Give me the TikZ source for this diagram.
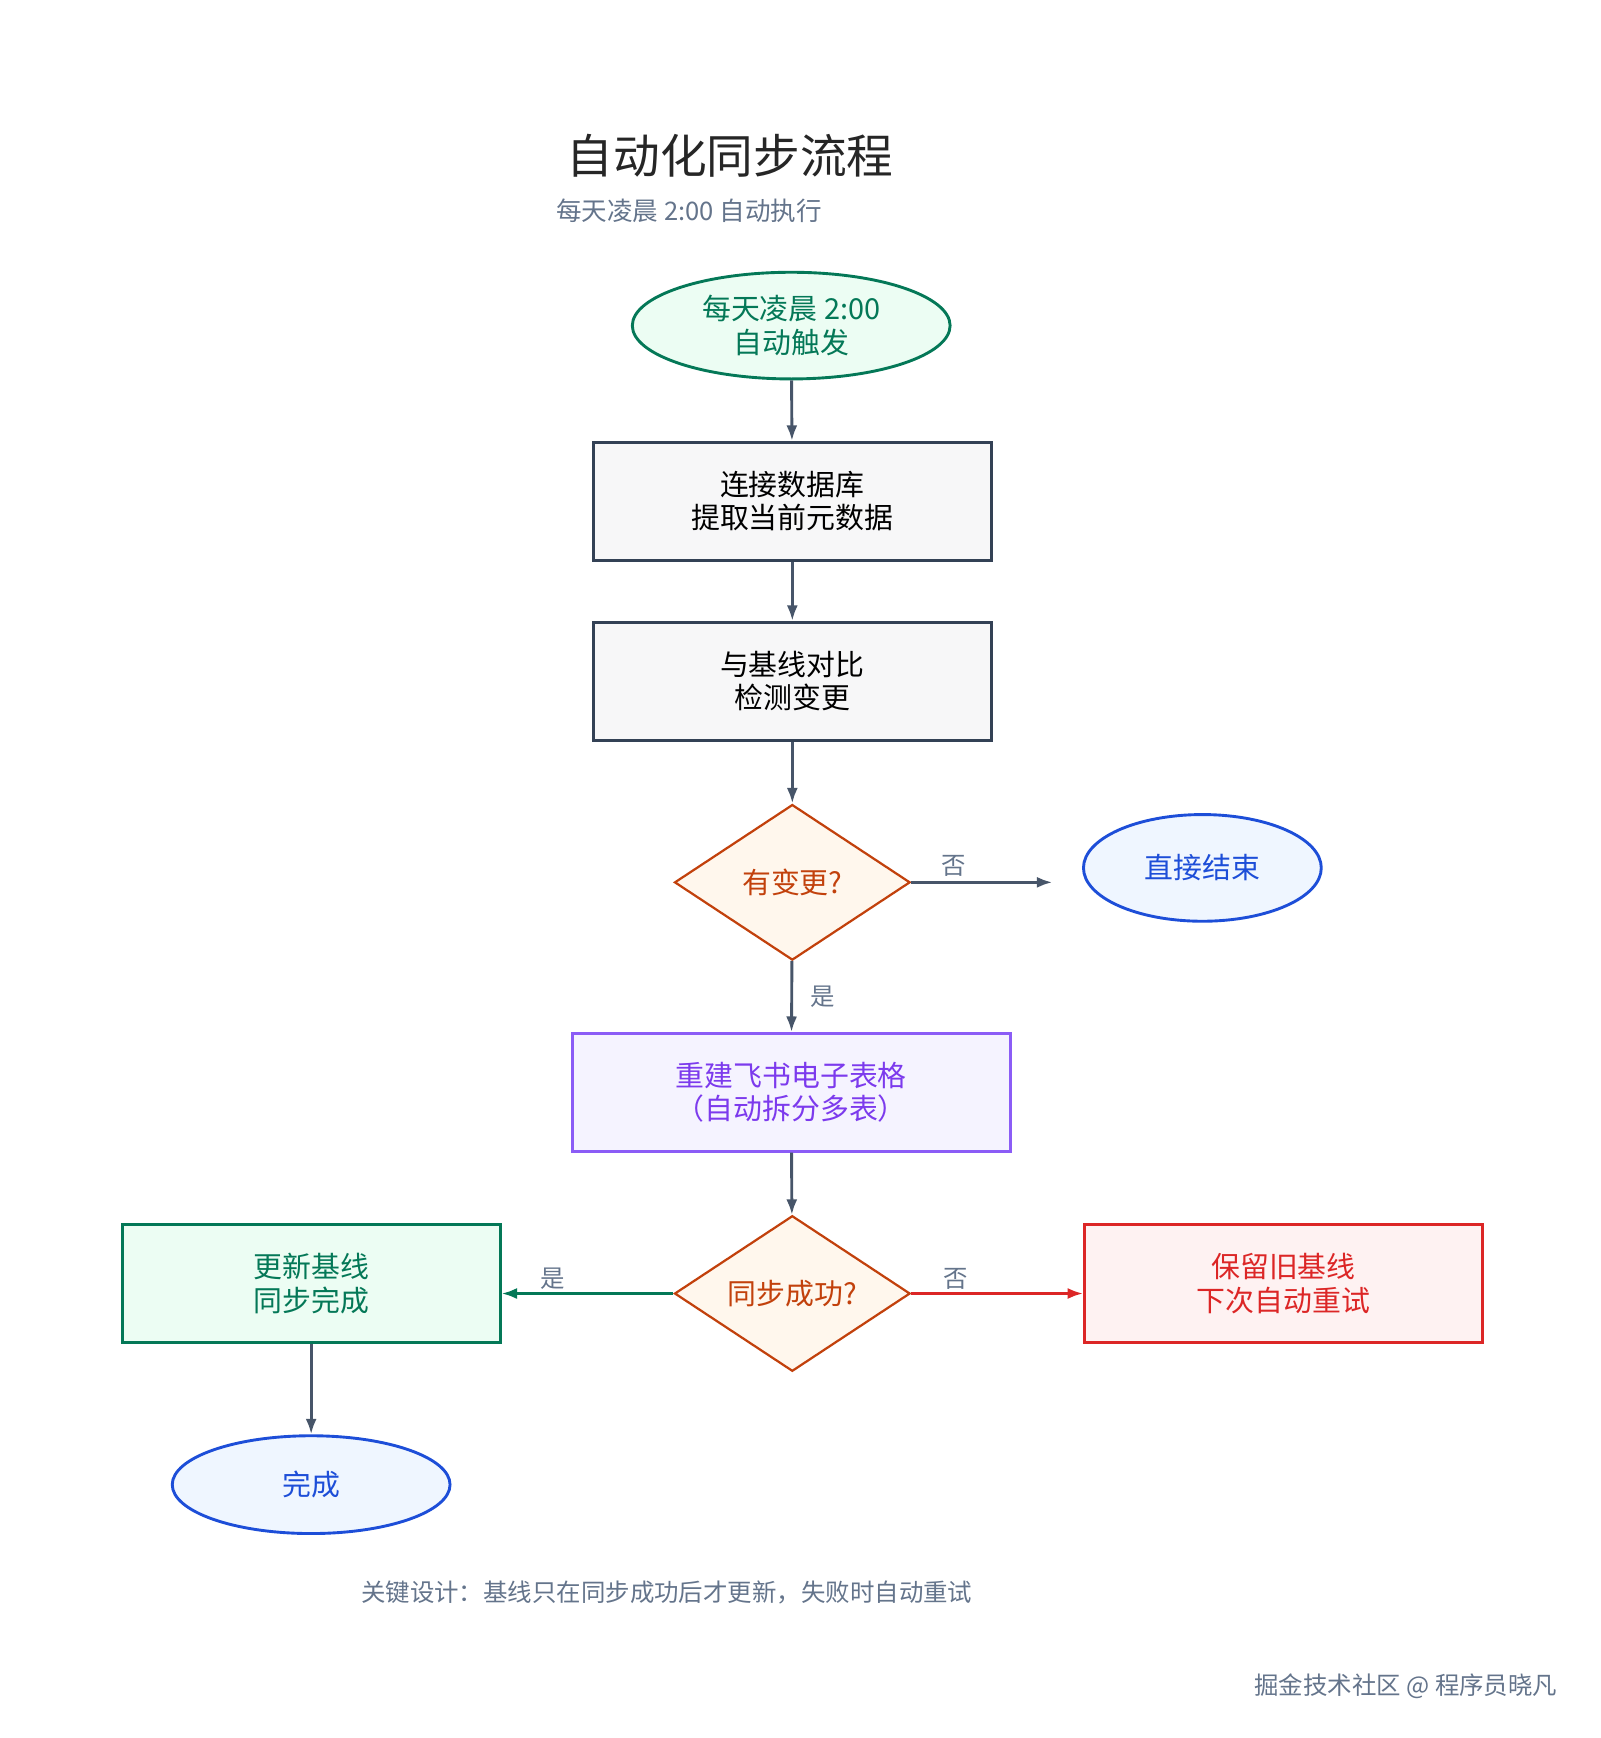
\documentclass[tikz,border=0pt]{standalone}
\usepackage{fontspec}
\setmainfont{Noto Sans CJK SC}
\usetikzlibrary{shapes.geometric,arrows.meta}
\definecolor{slate}{HTML}{334155}
\definecolor{arr}{HTML}{475569}
\definecolor{gtxt}{HTML}{047857}
\definecolor{gfill}{HTML}{ECFDF3}
\definecolor{ofill}{HTML}{FFF7ED}
\definecolor{obd}{HTML}{C2410C}
\definecolor{bfill}{HTML}{EFF6FF}
\definecolor{bbd}{HTML}{1D4ED8}
\definecolor{pfill}{HTML}{F5F3FF}
\definecolor{pbd}{HTML}{8B5CF6}
\definecolor{ptxt}{HTML}{7C3AED}
\definecolor{rfill}{HTML}{FEF2F2}
\definecolor{rbd}{HTML}{DC2626}
\definecolor{gray1}{HTML}{64748B}
\begin{document}
\begin{tikzpicture}[x=0.5pt,y=-0.5pt,
  every node/.style={font=\fontsize{13}{15}\selectfont, align=center, inner sep=0},
  box/.style={rectangle, draw=slate, fill=slate!4, line width=1.3pt, minimum width=179pt, minimum height=53pt},
  ell/.style={ellipse, line width=1.3pt},
  dia/.style={diamond, draw=obd, fill=ofill, text=obd, line width=1pt, minimum width=106pt, minimum height=70pt, aspect=1.5},
  ar/.style={-{Latex[length=7pt,width=5pt]}, line width=1.3pt, draw=arr},
  lab/.style={font=\fontsize{11}{13}\selectfont, text=gray1}]
\useasboundingbox (0,0) rectangle (1440,1564);
\node[font=\fontsize{21}{24}\selectfont, text=black!85] (t) at (657,140) {自动化同步流程};
\node[font=\fontsize{11.5}{13}\selectfont, text=gray1] (st) at (620,190) {每天凌晨 2:00 自动执行};
\node[ell, draw=gtxt, fill=gfill, text=gtxt, minimum width=143pt, minimum height=48pt] (s) at (712,293) {每天凌晨 2:00\\自动触发};
\node[box] (b1) at (713,451) {连接数据库\\提取当前元数据};
\node[box] (b2) at (713,613) {与基线对比\\检测变更};
\node[dia] (d1) at (713,794) {有变更?};
\node[ell, draw=bbd, fill=bfill, text=bbd, minimum width=107pt, minimum height=48pt] (e1) at (1082,781) {直接结束};
\coordinate (e1a) at (947,794);
\node[box, draw=pbd, fill=pfill, text=ptxt, minimum width=197pt] (b3) at (712,983) {重建飞书电子表格\\（自动拆分多表）};
\node[dia] (d2) at (713,1164) {同步成功?};
\node[box, draw=gtxt, fill=gfill, text=gtxt, minimum width=170pt] (gb) at (280,1155) {更新基线\\同步完成};
\node[box, draw=rbd, fill=rfill, text=rbd, minimum width=179pt] (rb) at (1155,1155) {保留旧基线\\下次自动重试};
\node[ell, draw=bbd, fill=bfill, text=bbd, minimum width=125pt, minimum height=44pt] (e2) at (280,1336) {完成};
\node[font=\fontsize{11}{13}\selectfont, text=gray1] (f) at (600,1433) {关键设计：基线只在同步成功后才更新，失败时自动重试};
\node[font=\fontsize{11}{13}\selectfont, text=gray1] (w) at (1265,1517) {掘金技术社区 @ 程序员晓凡};
\draw[ar] (s) -- (b1);
\draw[ar] (b1) -- (b2);
\draw[ar] (b2) -- (d1);
\draw[ar] (d1.east) -- (e1a) node[lab, pos=0.3, above=2pt] {否};
\draw[ar] (d1) -- (b3) node[lab, midway, right=8pt] {是};
\draw[ar] (b3) -- (d2);
\draw[ar, draw=gtxt, -{Latex[length=7pt,width=5pt]}] (d2.west) -- (d2.west -| gb.east) node[lab, pos=0.7, above=1pt] {是};
\draw[ar, draw=rbd] (d2.east) -- (d2.east -| rb.west) node[lab, pos=0.26, above=1pt] {否};
\draw[ar] (gb) -- (e2);
\end{tikzpicture}
\end{document}
